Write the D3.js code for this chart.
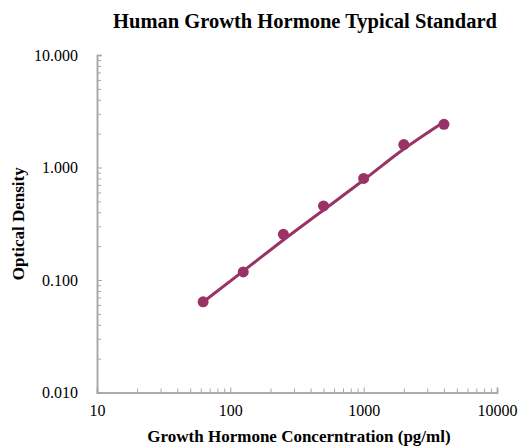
<!DOCTYPE html>
<html>
<head>
<meta charset="utf-8">
<script src="https://cdn.jsdelivr.net/npm/d3@7"></script>
<style>
  html, body { margin: 0; padding: 0; background: #fff; }
  svg text { font-family: "Liberation Serif", "Times New Roman", serif; fill: #000; }
</style>
</head>
<body>
<svg id="chart" width="518" height="446"></svg>
<script>
  // Standard concentrations (pg/ml) and measured OD
  const concentrations = [62.5, 125, 250, 500, 1000, 2000, 4000];
  const opticalDensity = [0.064, 0.118, 0.255, 0.455, 0.80, 1.60, 2.42];
  // fitted curve at the same concentrations
  const fittedDensity = [0.0637, 0.120, 0.227, 0.419, 0.774, 1.46, 2.54];

  const xTicks = [10, 100, 1000, 10000];
  const yTicks = [0.01, 0.1, 1, 10];

  const color = "#993366";
  const axisColor = "#a6a6a6";

  const svg = d3.select("#chart");

  const x = d3.scaleLog().domain([10, 10000]).range([97, 497]);
  const y = d3.scaleLog().domain([0.01, 10]).range([392.5, 55]);

  //// Title
  svg.append("text")
    .attr("x", 305)
    .attr("y", 28)
    .attr("text-anchor", "middle")
    .style("font-size", "20.5px")
    .style("font-weight", "bold")
    .text("Human Growth Hormone Typical Standard");

  //// Axes
  const minorX = x.ticks().filter(d => !xTicks.includes(d));
  const minorY = y.ticks().filter(d => !yTicks.some(t => Math.abs(t - d) < 1e-9));

  svg.append("g")
    .attr("class", "x minor")
    .attr("transform", `translate(0,${y(0.01)})`)
    .call(d3.axisBottom(x).tickValues(minorX).tickSize(-4).tickFormat(""));
  svg.append("g")
    .attr("class", "x axis")
    .attr("transform", `translate(0,${y(0.01)})`)
    .call(d3.axisBottom(x).tickValues(xTicks).tickSize(-5).tickPadding(12).tickFormat(d3.format("d")));

  svg.append("g")
    .attr("class", "y minor")
    .attr("transform", `translate(${x(10)},0)`)
    .call(d3.axisLeft(y).tickValues(minorY).tickSize(-4).tickFormat(""));
  svg.append("g")
    .attr("class", "y axis")
    .attr("transform", `translate(${x(10)},0)`)
    .call(d3.axisLeft(y).tickValues(yTicks).tickSize(-5).tickPadding(19).tickFormat(d3.format(".3f")));

  svg.selectAll(".axis path, .minor path")
    .attr("stroke", axisColor)
    .attr("stroke-width", 1.5);
  svg.selectAll(".axis .tick line, .minor .tick line")
    .attr("stroke", axisColor)
    .attr("stroke-width", 1);
  svg.selectAll(".axis .tick text")
    .style("font-size", "16px")
    .attr("fill", "#000");

  //// Axis titles
  svg.append("text")
    .attr("x", 299)
    .attr("y", 442)
    .attr("text-anchor", "middle")
    .style("font-size", "17px")
    .style("font-weight", "bold")
    .text("Growth Hormone Concerntration (pg/ml)");

  svg.append("text")
    .attr("transform", `translate(24,${(y(10) + y(0.01)) / 2}) rotate(-90)`)
    .attr("text-anchor", "middle")
    .style("font-size", "17px")
    .style("font-weight", "bold")
    .text("Optical Density");

  //// Fitted line
  const fit = concentrations.map((c, i) => ({ c, od: fittedDensity[i] }));
  const line = d3.line()
    .x(d => x(d.c))
    .y(d => y(d.od))
    .curve(d3.curveMonotoneX);
  svg.append("path")
    .datum(fit)
    .attr("fill", "none")
    .attr("stroke", color)
    .attr("stroke-width", 3)
    .attr("stroke-linecap", "round")
    .attr("d", line);

  //// Points
  svg.append("g")
    .selectAll("circle")
    .data(concentrations.map((c, i) => ({ c, od: opticalDensity[i] })))
    .join("circle")
    .attr("cx", d => x(d.c))
    .attr("cy", d => y(d.od))
    .attr("r", 5.5)
    .attr("fill", color);
</script>
</body>
</html>
